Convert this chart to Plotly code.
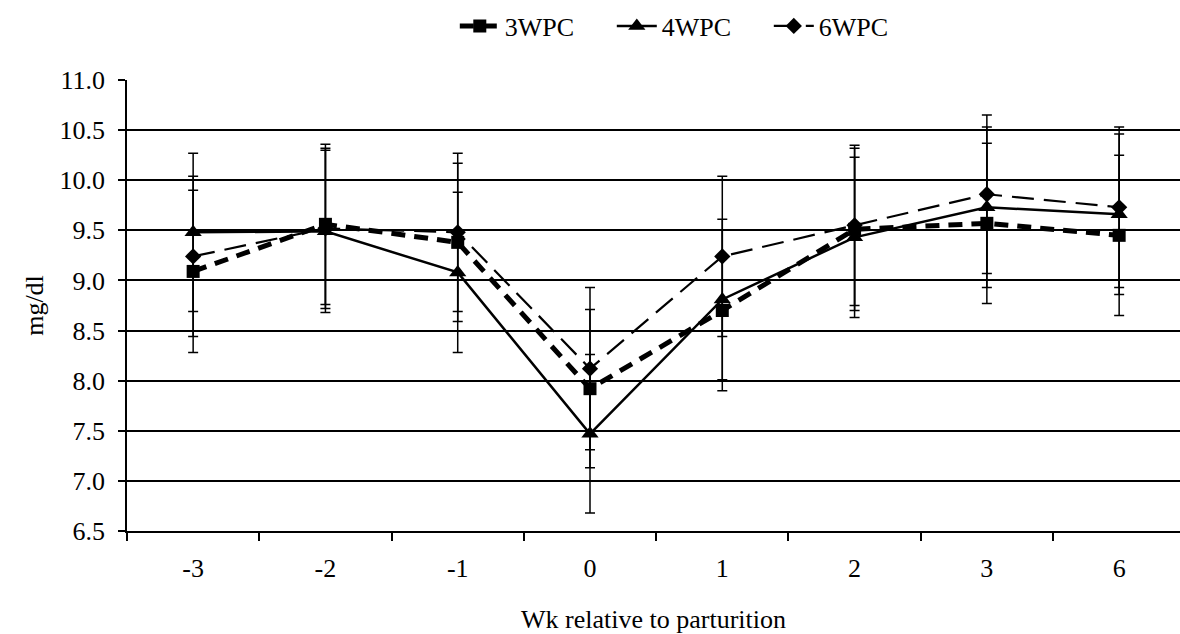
import plotly.graph_objects as go

weeks = ["-3", "-2", "-1", "0", "1", "2", "3", "6"]

wpc3 = [9.09, 9.56, 9.38, 7.92, 8.70, 9.51, 9.57, 9.45]
wpc3_se = [0.81, 0.80, 0.79, 0.79, 0.80, 0.81, 0.80, 0.80]

wpc4 = [9.48, 9.49, 9.08, 7.47, 8.81, 9.43, 9.73, 9.66]
wpc4_se = [0.79, 0.81, 0.80, 0.79, 0.80, 0.80, 0.80, 0.80]

wpc6 = [9.24, 9.52, 9.48, 8.12, 9.24, 9.55, 9.86, 9.73]
wpc6_se = [0.80, 0.80, 0.79, 0.81, 0.80, 0.80, 0.79, 0.80]

y_ticks = [6.5, 7.0, 7.5, 8.0, 8.5, 9.0, 9.5, 10.0, 10.5, 11.0]

FONT = "Liberation Serif, Times New Roman, serif"
FS = 26

fig = go.Figure()

def err(arr):
    return dict(type="data", array=arr, visible=True, color="black", thickness=1.5, width=5)

fig.add_trace(go.Scatter(
    x=weeks, y=wpc6, name="6WPC", mode="lines+markers",
    line=dict(color="black", width=2.2, dash="22px,10px"),
    marker=dict(symbol="diamond", size=12.5, color="black"),
    error_y=err(wpc6_se), legendrank=3))

fig.add_trace(go.Scatter(
    x=weeks, y=wpc4, name="4WPC", mode="lines+markers",
    line=dict(color="black", width=2.5),
    marker=dict(symbol="triangle-up", size=15, color="black"),
    error_y=err(wpc4_se), legendrank=2))

fig.add_trace(go.Scatter(
    x=weeks, y=wpc3, name="3WPC", mode="lines+markers",
    line=dict(color="black", width=5, dash="14px,9px"),
    marker=dict(symbol="square", size=13, color="black"),
    error_y=err(wpc3_se), legendrank=1))

fig.update_layout(
    width=1180, height=634,
    paper_bgcolor="white", plot_bgcolor="white",
    margin=dict(l=127, r=0, t=80, b=103),
    font=dict(family=FONT, size=FS, color="black"),
    showlegend=True,
    legend=dict(orientation="h", xref="container", x=0.585, xanchor="center",
                yref="container", y=1 - 26 / 634, yanchor="middle",
                font=dict(size=FS, family=FONT),
                traceorder="normal", itemwidth=40, entrywidth=102,
                bgcolor="rgba(0,0,0,0)"),
    xaxis=dict(
        type="category", range=[-0.5, 7.46],
        showline=True, linecolor="black", linewidth=1.5,
        ticks="outside", ticklen=8, tickcolor="black", tickwidth=1.5,
        tickson="boundaries", showgrid=False,
        ticklabelstandoff=13,
        title=dict(text="Wk relative to parturition", standoff=30, font=dict(size=FS)),
        tickfont=dict(size=FS),
    ),
    yaxis=dict(
        range=[6.5, 11.0], tickvals=y_ticks, tickformat=".1f",
        showline=True, linecolor="black", linewidth=1.5,
        ticks="outside", ticklen=7, tickcolor="black", tickwidth=1.5,
        showgrid=True, gridcolor="black", gridwidth=1.5,
        zeroline=False, ticklabelstandoff=8,
        title=dict(text="mg/dl", standoff=8, font=dict(size=FS)),
        tickfont=dict(size=FS),
    ),
)

fig.write_html("out.html")
